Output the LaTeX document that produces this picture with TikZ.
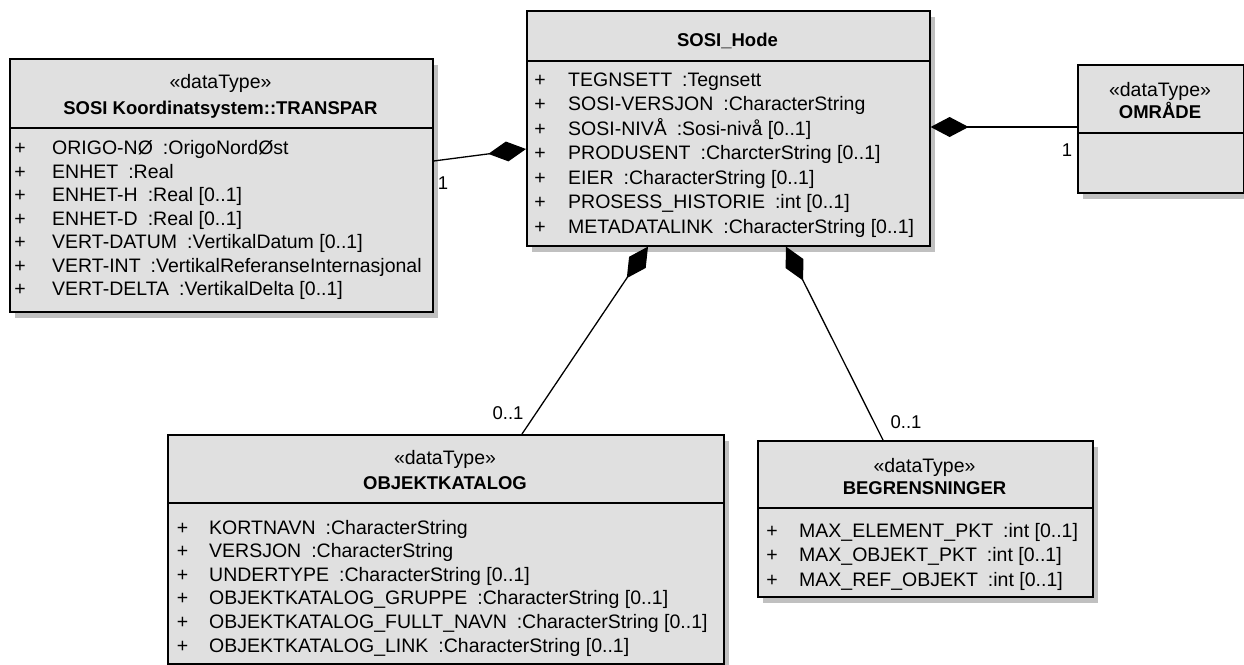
\documentclass[tikz,border=0pt]{standalone}
\usepackage{fontspec}
\setmainfont{Liberation Sans}
\usetikzlibrary{arrows.meta,shadows}
\definecolor{boxfill}{RGB}{224,224,224}
\definecolor{shade}{RGB}{192,192,192}
\newcommand\cln{\hspace{10pt}:}
\begin{document}
\begin{tikzpicture}[x=1pt,y=-1pt,
  umlbox/.style={draw=black, line width=1.6pt, fill=boxfill, rectangle, inner sep=0pt,
    anchor=north west, drop shadow={shadow xshift=5pt, shadow yshift=-6pt, fill=shade, opacity=1}},
  txt/.style={inner sep=0pt, font=\fontsize{19.5}{23}\selectfont},
  attr/.style={txt, anchor=base west},
  pl/.style={txt, anchor=base},
  ttl/.style={txt, anchor=base},
  bttl/.style={txt, anchor=base, font=\fontsize{18.5}{22}\selectfont\bfseries},
  sep/.style={line width=1.5pt},
  comp/.style={line width=1.3pt, -{Diamond[length=38pt,width=20pt]}},
  mult/.style={txt, anchor=center, font=\fontsize{18.5}{22}\selectfont}
]
\useasboundingbox[fill=white] (0,0) rectangle (1244,664);

% boxes
\node[umlbox, minimum width=423pt, minimum height=253pt] (trans) at (9,58) {};
\node[umlbox, minimum width=403pt, minimum height=235pt] (hode) at (526,10) {};
\node[umlbox, minimum width=166pt, minimum height=128pt] (omr) at (1077,64) {};
\node[umlbox, minimum width=556pt, minimum height=229pt] (obj) at (167,434) {};
\node[umlbox, minimum width=335pt, minimum height=156pt] (begr) at (757,440) {};

% separators
\draw[sep] (9,128) -- (432,128);
\draw[sep] (526,61) -- (929,61);
\draw[sep] (1077,133) -- (1243,133);
\draw[sep] (167,503) -- (723,503);
\draw[sep] (757,508) -- (1092,508);

% titles
\node[ttl] (transst) at (220.5,88.5) {«dataType»};
\node[bttl] (transname) at (220.5,114.5) {SOSI Koordinatsystem::TRANSPAR};
\node[bttl] (hodename) at (727.5,46.5) {SOSI\_Hode};
\node[ttl] (omrst) at (1160,96.5) {«dataType»};
\node[bttl] (omrname) at (1160,118.5) {OMRÅDE};
\node[ttl] (objst) at (445,464.5) {«dataType»};
\node[bttl] (objname) at (445,489.5) {OBJEKTKATALOG};
\node[ttl] (begrst) at (924.5,472.5) {«dataType»};
\node[bttl] (begrname) at (924.5,494.5) {BEGRENSNINGER};

% attributes TRANSPAR
\foreach \t [count=\i] in {{ORIGO-NØ\cln OrigoNordØst},{ENHET\cln Real},{ENHET-H\cln Real [0..1]},
  {ENHET-D\cln Real [0..1]},{VERT-DATUM\cln VertikalDatum [0..1]},
  {VERT-INT\cln VertikalReferanseInternasjonal},{VERT-DELTA\cln VertikalDelta [0..1]}}{
  \node[pl] (trp\i) at (20,{154.5+23.5*(\i-1)}) {+};
  \node[attr] (tra\i) at (52,{154.5+23.5*(\i-1)}) {\t};
}
% attributes SOSI_Hode
\foreach \t [count=\i] in {{TEGNSETT\cln Tegnsett},{SOSI-VERSJON\cln CharacterString},
  {SOSI-NIVÅ\cln Sosi-nivå [0..1]},{PRODUSENT\cln CharcterString [0..1]},
  {EIER\cln CharacterString [0..1]},{PROSESS\_HISTORIE\cln int [0..1]},
  {METADATALINK\cln CharacterString [0..1]}}{
  \node[pl] (hop\i) at (540,{86+24.5*(\i-1)}) {+};
  \node[attr] (hoa\i) at (568,{86+24.5*(\i-1)}) {\t};
}
% attributes OBJEKTKATALOG
\foreach \t [count=\i] in {{KORTNAVN\cln CharacterString},{VERSJON\cln CharacterString},
  {UNDERTYPE\cln CharacterString [0..1]},{OBJEKTKATALOG\_GRUPPE\cln CharacterString [0..1]},
  {OBJEKTKATALOG\_FULLT\_NAVN\cln CharacterString [0..1]},
  {OBJEKTKATALOG\_LINK\cln CharacterString [0..1]}}{
  \node[pl] (obp\i) at (182.5,{534+23.6*(\i-1)}) {+};
  \node[attr] (oba\i) at (209,{534+23.6*(\i-1)}) {\t};
}
% attributes BEGRENSNINGER
\foreach \t [count=\i] in {{MAX\_ELEMENT\_PKT\cln int [0..1]},{MAX\_OBJEKT\_PKT\cln int [0..1]},
  {MAX\_REF\_OBJEKT\cln int [0..1]}}{
  \node[pl] (bep\i) at (772,{537+24.5*(\i-1)}) {+};
  \node[attr] (bea\i) at (799,{537+24.5*(\i-1)}) {\t};
}

% connectors (composition)
\draw[comp] ([yshift=-103pt]trans.north east) -- ([yshift=-139pt]hode.north west);
\draw[comp] ([xshift=355pt]obj.north west) -- ([xshift=122pt]hode.south west);
\draw[comp] ([xshift=126pt]begr.north west) -- ([xshift=260pt]hode.south west);
\draw[comp] ([yshift=-63pt]omr.north west) -- ([yshift=-117pt]hode.north east);

% multiplicities
\node[mult] (m1) at (443,183) {1};
\node[mult] (m2) at (508,413) {0..1};
\node[mult] (m3) at (906,422) {0..1};
\node[mult] (m4) at (1067,150) {1};
\end{tikzpicture}
\end{document}
